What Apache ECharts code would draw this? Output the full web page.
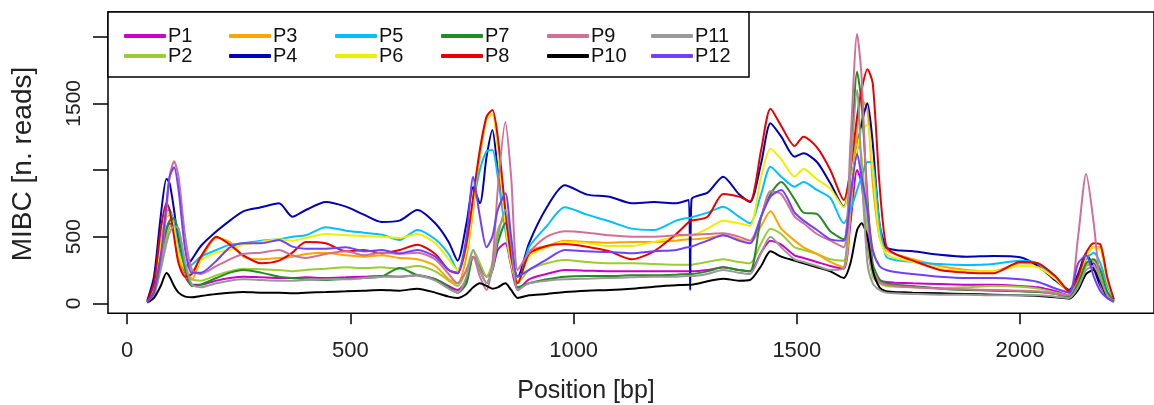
<!DOCTYPE html>
<html><head><meta charset="utf-8">
<script src="https://cdn.jsdelivr.net/npm/echarts@6/dist/echarts.min.js"></script>
<style>html,body{margin:0;padding:0;background:#fff}#c{width:1154px;height:405px}</style>
</head><body><div id="c"></div>
<script>
const positions = [45,60,75,88,95,105,115,130,145,165, 200,230,260,300,340,370,400,445,490,530, 570,610,650,690,720,740,760,775,790,805, 818,830,847,860,875,900,940,980,1030,1080, 1130,1180,1230,1258,1261,1264,1300,1335,1370,1395, 1420,1441,1465,1495,1515,1545,1575,1605,1620,1635, 1645,1658,1670,1685,1700,1720,1760,1820,1880,1940, 2000,2040,2080,2110,2130,2148,2165,2180,2195,2210];

const P1 = [10,80,300,550,600,550,400,200,140,140, 170,190,200,195,190,190,195,190,195,200, 205,200,210,180,130,100,180,350,280,200, 250,400,450,280,100,180,220,250,245,240, 240,240,240,240,240,240,250,270,250,240, 380,470,440,360,340,310,280,260,600,1000, 900,450,220,170,160,155,150,145,140,140, 130,120,90,60,150,280,300,200,70,15];
const P2 = [10,80,300,500,570,600,560,300,180,170, 210,240,260,255,250,240,250,260,270,265, 270,260,280,240,170,130,250,400,300,200, 300,550,650,420,150,250,300,325,310,300, 300,295,290,290,290,290,310,330,310,300, 450,560,520,420,400,370,330,320,700,1250, 1100,500,200,150,130,125,120,115,120,130, 125,110,80,60,150,280,320,220,80,15];
const P3 = [10,120,450,650,660,550,350,200,180,330, 490,460,350,330,340,350,370,380,360,350, 360,340,330,280,180,150,350,700,1100,1380, 1420,1200,650,330,160,390,430,470,460,455, 460,460,470,480,480,480,490,510,480,450, 580,690,560,470,420,370,310,270,700,1300, 1530,1450,900,500,400,370,330,280,250,240, 300,290,200,100,200,350,420,420,180,25];
const P4 = [20,200,650,935,900,700,450,270,330,430, 540,620,690,720,750,650,700,760,725,665, 610,620,700,600,460,320,600,870,750,1100, 1300,1000,600,350,200,450,720,885,815,800, 750,760,750,775,100,780,830,950,820,760, 1050,1350,1250,1100,1125,1060,900,725,900,1150, 1350,1500,1200,600,420,400,390,365,350,355, 345,280,170,100,220,375,260,130,50,20];
const P5 = [10,100,400,690,700,600,420,280,290,350, 400,440,450,470,480,500,510,570,545,530, 515,475,550,480,370,250,450,750,1000,1140, 1150,950,550,300,150,420,580,720,665,615, 560,550,620,640,640,645,680,725,650,600, 820,1025,950,875,910,850,790,600,700,850, 950,1060,1050,600,350,325,310,295,288,295, 320,300,190,90,180,330,380,300,140,20];
const P6 = [10,110,420,660,680,560,380,250,230,320, 380,400,440,460,480,470,490,520,510,505, 500,490,520,450,330,250,400,750,1150,1380, 1420,1150,600,300,150,350,420,460,450,430, 430,460,500,510,510,510,560,620,600,580, 950,1160,1080,950,1010,930,860,720,900,1150, 1300,1340,1000,500,370,340,310,260,240,240, 280,270,180,90,190,350,420,400,170,25];
const P7 = [10,90,350,560,620,640,520,250,130,140, 190,230,250,230,200,190,180,175,185,190, 200,265,210,180,120,80,150,350,250,150, 250,450,600,400,120,150,180,200,205,205, 210,210,215,220,220,220,240,270,250,240, 650,820,910,780,680,670,540,480,1000,1737, 1500,800,300,180,150,140,130,110,100,95, 90,85,70,50,150,300,330,250,90,15];
const P8 = [15,150,550,752,700,500,300,200,220,350, 500,440,360,300,320,380,460,450,390,400, 375,400,440,370,250,225,450,800,1150,1400, 1450,1250,700,350,150,370,430,445,425,390, 330,390,520,610,615,620,650,820,800,765, 1150,1460,1330,1180,1250,1170,1000,775,1000,1400, 1600,1755,1650,900,430,370,320,250,230,225, 310,300,200,90,200,380,450,440,200,30];
const P9 = [10,60,300,700,950,1065,950,500,250,220, 280,330,370,380,400,360,340,370,390,360, 380,370,380,330,220,150,250,350,200,100, 300,850,1360,950,250,380,500,540,530,510, 500,500,510,515,515,515,520,525,500,470, 650,840,820,650,600,520,470,420,1200,2020, 1700,700,250,160,140,130,120,110,105,100, 95,90,70,60,500,970,600,150,40,15];
const P10 = [5,40,130,227,200,130,80,50,45,55, 70,80,85,80,80,75,80,85,90,95, 100,95,110,80,50,40,70,120,150,130, 110,120,150,100,40,60,70,85,95,100, 110,125,135,140,140,140,165,185,170,175, 280,390,350,320,300,270,240,190,300,550, 600,500,250,120,90,85,80,75,70,65, 60,55,45,35,100,220,250,160,50,10];
const P11 = [10,70,250,450,530,580,560,300,140,120, 150,170,180,175,170,170,175,180,180,190, 200,200,210,170,110,80,200,400,250,150, 250,500,700,450,100,150,170,180,185,190, 195,200,200,205,205,205,220,250,230,220, 380,500,420,330,310,280,250,260,1000,1600, 1000,300,150,100,80,75,70,65,65,60, 60,60,50,40,120,250,280,180,60,10];
const P12 = [10,80,350,750,950,1020,850,400,230,230, 320,420,450,450,475,425,410,410,420,390, 400,375,400,350,250,230,500,950,650,420, 500,700,825,500,200,250,330,400,390,385, 375,390,400,420,420,425,470,510,470,450, 650,800,850,680,620,550,480,470,800,1120, 950,700,400,280,250,235,220,200,190,190, 180,160,110,80,300,360,200,90,40,15];

const seriesNames = ['P1','P2','P3','P4','P5','P6','P7','P8','P9','P10','P11','P12'];
const seriesValues = [P1,P2,P3,P4,P5,P6,P7,P8,P9,P10,P11,P12];
const seriesColors = ['#cc00cc','#9acd32','#ffa500','#0000b4','#00bfff','#eeee00','#228b22','#e80000','#d07098','#000000','#999999','#7040ff'];
const xTicks = [0,500,1000,1500,2000];
const yTicks = [0,500,1000,1500,2000];
const yLabels = [0,500,1500];
const xTitle = 'Position [bp]';
const yTitle = 'MIBC [n. reads]';

const FONT = 'Liberation Sans, Arial, sans-serif';
const chart = echarts.init(document.getElementById('c'), null, {renderer:'canvas'});

const legendCols = [['P1','P2'],['P3','P4'],['P5','P6'],['P7','P8'],['P9','P10'],['P11','P12']];
const legendLeft = [124, 229, 335, 441, 547, 651];
const legends = legendCols.map((d,i)=>({
  data: d, orient:'vertical', left: legendLeft[i], top: 26, z: 10,
  icon: 'roundRect', itemWidth: 42, itemHeight: 4, itemGap: 0, padding: 0,
  textStyle: {fontSize: 20, fontFamily: FONT, color:'#111', lineHeight: 20, padding:[0,0,0,-3]},
  selectedMode: false
}));

chart.setOption({
  animation: false,
  backgroundColor: '#fff',
  grid: {left: 108, top: 12, width: 1050.6, height: 301.3, show: true, borderColor: '#000', borderWidth: 1.5},
  legend: legends,
  graphic: [
    {type:'rect', z: 5, shape:{x:108, y:12, width:641, height:65}, style:{fill:'#fff', stroke:'#000', lineWidth:1.5}},
    {type:'text', z: 5, x: 586, y: 391, style:{text: xTitle, font: '25px ' + FONT, fill:'#222', textAlign:'center', textVerticalAlign:'middle'}},
    {type:'text', z: 5, x: 23, y: 164, rotation: Math.PI/2, style:{text: yTitle, font: '28px ' + FONT, fill:'#222', textAlign:'center', textVerticalAlign:'middle'}}
  ],
  xAxis: {
    type:'value', min:-43, max:2300,
    axisLine:{show:false, onZero:false}, splitLine:{show:false},
    axisTick:{show:true, customValues:xTicks, length:11, lineStyle:{color:'#000', width:1.5}},
    axisLabel:{customValues:xTicks, fontSize:22, fontFamily:FONT, color:'#222', margin:27, formatter: v => String(v)}
  },
  yAxis: {
    type:'value', min:-75, max:2185,
    axisLine:{show:false, onZero:false}, splitLine:{show:false},
    axisTick:{show:true, customValues:yTicks, length:15, lineStyle:{color:'#000', width:1.5}},
    axisLabel:{customValues:yLabels, rotate:90, fontSize:21, fontFamily:FONT, color:'#222', margin:23, formatter: v => String(v)}
  },
  series: seriesNames.map((n,i)=>({
    name:n, type:'line', symbol:'none', smooth:0.25, z: 2,
    color: seriesColors[i],
    lineStyle:{width:2, color: seriesColors[i]},
    data: positions.map((x,j)=>[x, seriesValues[i][j]])
  }))
});
</script></body></html>
